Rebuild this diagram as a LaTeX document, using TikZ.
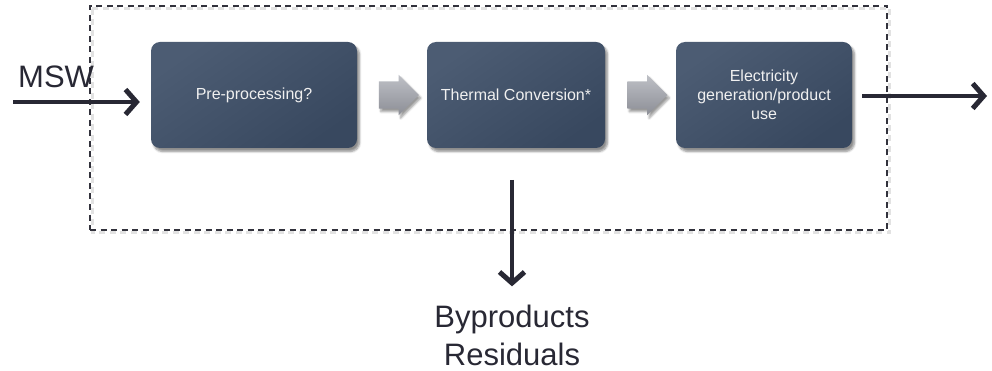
\documentclass[tikz,border=0pt]{standalone}
\usepackage{fontspec}
\setmainfont{Liberation Sans}
\usetikzlibrary{arrows.meta,shapes.arrows,shadows.blur,calc}
\definecolor{boxA}{RGB}{76,92,115}
\definecolor{boxB}{RGB}{56,72,95}
\definecolor{ink}{RGB}{40,40,52}
\definecolor{grayA}{RGB}{190,192,198}
\definecolor{grayB}{RGB}{140,142,150}
\definecolor{framec}{RGB}{50,50,60}
\begin{document}
\begin{tikzpicture}[x=1pt,y=1pt,
  stage/.style={rounded corners=9pt, minimum height=106pt, inner sep=0pt,
    text=white!94!black, font=\fontsize{16}{19}\selectfont, align=center,
    top color=boxA, bottom color=boxB, shading angle=35,
    blur shadow={shadow xshift=2.5pt,shadow yshift=-3.5pt,shadow opacity=45,shadow blur steps=6}},
  flow/.style={single arrow, single arrow head extend=6.5pt, minimum height=40pt,
    text height=27pt, text depth=0pt, text width=0pt, inner sep=0pt,
    top color=grayA, bottom color=grayB, draw=none,
    blur shadow={shadow xshift=2pt,shadow yshift=-3pt,shadow opacity=40,shadow blur steps=5}},
  conn/.style={draw=ink, line width=4pt, -{Straight Barb[length=11pt,width=25pt,line width=5pt]}},
  frame/.style={draw=framec, line width=1.3pt, dash pattern=on 6pt off 4.5pt},
  frameshadow/.style={draw=black!25, line width=3pt, dash pattern=on 6pt off 4.5pt, opacity=0.45},
  big/.style={font=\fontsize{31}{37}\selectfont, text=ink, inner sep=0pt}
]
\useasboundingbox (0,0) rectangle (992,-371);

% system boundary
\draw[frameshadow] (92,-9) rectangle (889.5,-233);
\node[frame, minimum width=797pt, minimum height=224pt, inner sep=0pt] (sys) at (488.5,-118) {};

% stages
\node[stage, minimum width=206pt] (b1) at (254,-95) {Pre-processing?};
\node[stage, minimum width=178pt] (b2) at (516,-95) {Thermal Conversion*};
\node[stage, minimum width=176pt] (b3) at (764,-95) {Electricity\\generation/product\\use};

% block arrows between stages
\node[flow] (a1) at ($(b1.east)!0.5!(b2.west)$) {};
\node[flow] (a2) at ($(b2.east)!0.5!(b3.west)$) {};

% labels
\node[big, anchor=base west] (msw) at (18,-88) {MSW};
\node[big, anchor=base] (byp) at (512,-327) {Byproducts};
\node[big, anchor=base] (res) at (512,-365) {Residuals};

% connectors
\coordinate (in) at (13,-102);
\draw[conn, shorten >=11pt] (in) -- (in -| b1.west);
\coordinate (out) at (987,-96);
\draw[conn, shorten <=10pt] (b3.east |- out) -- (out);
\coordinate (dn) at (512,-180);
\draw[conn, shorten >=18pt] (dn) -- (dn |- byp.north);
\end{tikzpicture}
\end{document}
